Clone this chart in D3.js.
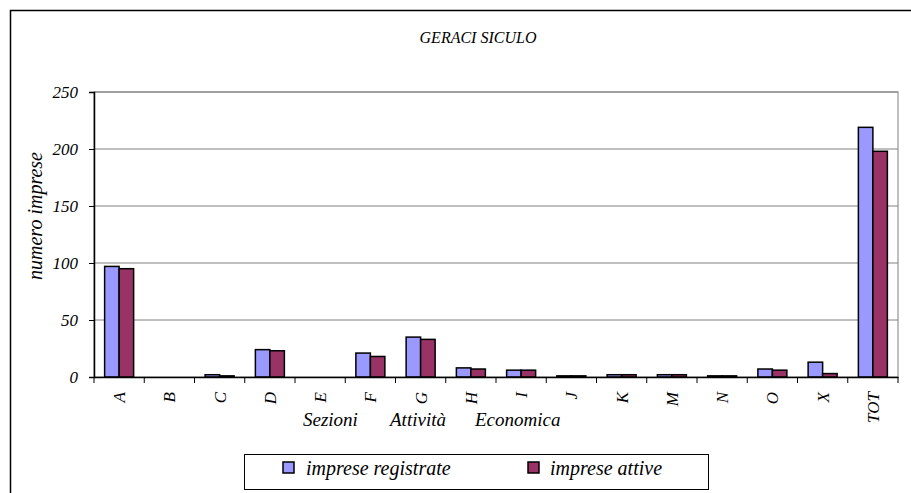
<!DOCTYPE html>
<html><head><meta charset="utf-8">
<script src="https://cdn.jsdelivr.net/npm/d3@7"></script>
<style>body{margin:0;background:#fff}svg{display:block}</style>
</head><body><svg id="c" width="911" height="493" font-family="'Liberation Serif', 'DejaVu Serif', serif" font-style="italic"></svg>
<script>
const categories = ["A","B","C","D","E","F","G","H","I","J","K","M","N","O","X","TOT"];
const registrate = [97,0,2,24,0,21,35,8,6,1,2,2,1,7,13,219];
const attive     = [95,0,1,23,0,18,33,7,6,1,2,2,1,6,3,198];
const yTicks = [0,50,100,150,200,250];
const seriesNames = ["imprese registrate","imprese attive"];
const colors = ["#9999FF","#993366"];
const FONT = "'Liberation Serif', 'DejaVu Serif', serif";

const svg = d3.select("#c");
svg.append("rect").attr("x",10.5).attr("y",10.5).attr("width",920).attr("height",500)
  .attr("fill","none").attr("stroke","#000").attr("stroke-width",1.5);

const L=94, R=898, T=92, B=377;
const x = d3.scaleBand().domain(categories).range([L,R]).paddingInner(0).paddingOuter(0);
const y = d3.scaleLinear().domain([0,250]).range([B,T]);
const sub = d3.scaleBand().domain([0,1]).range([0,29]);

svg.append("rect").attr("x",L).attr("y",T).attr("width",R-L).attr("height",B-T)
  .attr("fill","none").attr("stroke","#808080").attr("stroke-width",1);
svg.append("g").selectAll("line").data(yTicks.filter(d=>d>0)).join("line")
  .attr("x1",L).attr("x2",R).attr("y1",d=>y(d)).attr("y2",d=>y(d))
  .attr("stroke","#808080").attr("stroke-width",1);

const data = categories.map((c,i)=>({c, v:[registrate[i],attive[i]]}));
const g = svg.append("g");
data.forEach(d=>{
  d.v.forEach((v,k)=>{
    if(v<=0) return;
    const x0 = x(d.c)+ (x.bandwidth()-29)/2 + sub(k);
    g.append("rect").attr("x",x0).attr("y",y(v)).attr("width",sub.bandwidth()).attr("height",B-y(v))
      .attr("fill",colors[k]).attr("stroke","#000").attr("stroke-width",1.5);
  });
});

const ya = svg.append("g").attr("transform",`translate(${L},0)`)
  .call(d3.axisLeft(y).tickValues(yTicks).tickSize(5).tickPadding(11));
ya.attr("font-family",FONT).attr("font-size",17).attr("font-style","italic");
ya.select(".domain").attr("stroke","#000").attr("stroke-width",1.5);
ya.selectAll(".tick line").attr("stroke","#000");

const xa = svg.append("g").attr("transform",`translate(0,${B})`)
  .call(d3.axisBottom(x).tickSize(0).tickFormat(""));
xa.select(".domain").attr("stroke","#000").attr("stroke-width",1.5);
const bounds = categories.map(c=>x(c)).concat([R]);
svg.append("g").selectAll("line").data(bounds).join("line")
  .attr("x1",d=>d).attr("x2",d=>d).attr("y1",B).attr("y2",B+6).attr("stroke","#000").attr("stroke-width",1);
svg.append("g").selectAll("text").data(categories).join("text")
  .attr("transform",d=>`translate(${x(d)+x.bandwidth()/2+6},392) rotate(-90)`)
  .attr("text-anchor","end").attr("font-size",17).text(d=>d);

const xt = svg.append("text").attr("y",426).attr("font-size",19);
xt.append("tspan").attr("x",303).text("Sezioni");
xt.append("tspan").attr("x",390).text("Attività");
xt.append("tspan").attr("x",475).text("Economica");

svg.append("text").attr("transform","translate(42,216) rotate(-90)").attr("text-anchor","middle")
  .attr("font-size",20).text("numero imprese");

svg.append("text").attr("x",478).attr("y",43).attr("text-anchor","middle").attr("font-size",16).text("GERACI SICULO");

svg.append("rect").attr("x",244.5).attr("y",454.5).attr("width",464).attr("height",35)
  .attr("fill","#fff").attr("stroke","#000").attr("stroke-width",1);
const lx=[283,528], tx=[306,550];
seriesNames.forEach((n,k)=>{
  svg.append("rect").attr("x",lx[k]).attr("y",462).attr("width",11).attr("height",11)
    .attr("fill",colors[k]).attr("stroke","#000").attr("stroke-width",1.5);
  svg.append("text").attr("x",tx[k]).attr("y",475).attr("font-size",20).text(n);
});
</script></body></html>
